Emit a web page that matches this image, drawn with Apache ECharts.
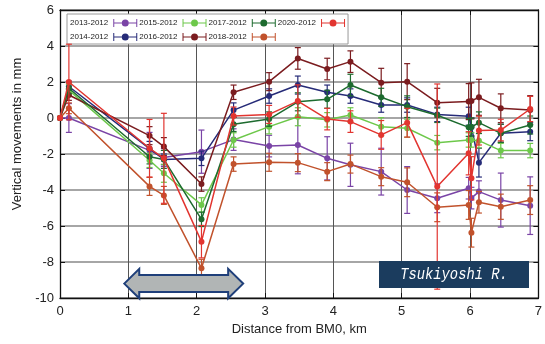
<!DOCTYPE html>
<html>
<head>
<meta charset="utf-8">
<script src="https://cdn.jsdelivr.net/npm/echarts@6/dist/echarts.min.js"></script>
<style>
html, body { margin: 0; padding: 0; background: #fff; }
#chart { width: 545px; height: 344px; }
</style>
</head>
<body>
<div id="chart"></div>
<script>
// station distances from BM0, km
var distKm = [0, 0.13, 1.31, 1.52, 2.07, 2.54, 3.06, 3.48, 3.91, 4.25, 4.70, 5.08, 5.52, 5.98, 6.02, 6.13, 6.45, 6.88];

var xTicks = [0, 1, 2, 3, 4, 5, 6, 7];
var yTicks = [-10, -8, -6, -4, -2, 0, 2, 4, 6];

// vertical movement (mm) and error (+/- mm) per survey
var v2013 = [0, 0, -1.8, -2.2, -1.87, -1.2, -1.56, -1.5, -2.24, -2.6, -2.98, -4.0, -4.46, -3.9, -4.45, -4.09, -4.56, -4.87];
var e2013 = [0, 0.8, 1.0, 0.5, 1.2, 0.6, 0.6, 1.6, 1.2, 1.2, 1.3, 1.3, 0.8, 0.6, 0.6, 0.6, 1.5, 1.6];
var v2014 = [0, 1.75, -1.7, -2.3, -2.24, 0.44, 1.22, 1.83, 1.43, 1.22, 0.72, 0.72, 0.2, 0.1, -0.5, -2.48, -0.85, -0.76];
var e2014 = [0, 0.3, 0.4, 0.3, 0.4, 0.4, 0.4, 0.5, 0.4, 0.4, 0.4, 0.4, 0.4, 0.5, 0.5, 0.8, 0.5, 0.5];
var v2015 = [0, 1.55, -2.35, -3.07, -4.83, -1.22, -0.48, 0.07, -0.1, 0.17, -0.48, -0.57, -1.37, -1.22, -1.22, -1.26, -1.81, -1.81];
var e2015 = [0, 0.3, 0.4, 0.5, 0.4, 0.4, 0.4, 0.5, 0.4, 0.4, 0.5, 0.5, 0.4, 0.4, 0.4, 0.4, 0.4, 0.4];
var v2016 = [0, 1.28, -0.98, -1.59, -3.67, 1.43, 2.02, 3.31, 2.72, 3.13, 1.96, 2.02, 0.85, 0.91, 0.95, 1.15, 0.54, 0.44];
var e2016 = [0, 0.3, 0.5, 0.5, 0.4, 0.4, 0.5, 0.6, 0.6, 0.6, 0.8, 1.0, 0.8, 1.0, 1.0, 1.0, 0.8, 0.8];
var v2017 = [0, 1.65, -2.15, -2.3, -5.63, -0.35, -0.06, 0.9, 1.04, 1.83, 1.15, 0.63, 0.15, -0.52, -0.5, -0.26, -0.85, -0.39];
var e2017 = [0, 0.3, 0.4, 0.5, 0.4, 0.4, 0.4, 0.5, 0.5, 0.6, 0.5, 0.6, 0.4, 0.5, 0.5, 0.6, 0.5, 0.5];
var v2018 = [0, 0.54, -3.8, -4.3, -8.35, -2.56, -2.46, -2.48, -2.98, -2.56, -3.26, -3.57, -4.96, -4.83, -6.37, -4.68, -4.93, -4.56];
var e2018 = [0, 0.3, 0.5, 0.5, 0.5, 0.4, 0.5, 0.5, 0.5, 0.5, 0.5, 0.8, 0.8, 0.8, 0.8, 0.6, 0.7, 0.8];
var v2020 = [0, 2.0, -1.68, -2.24, -6.87, 0.11, 0.2, 0.94, -0.06, -0.2, -0.94, -0.26, -3.81, -1.96, -3.35, -0.7, -0.67, 0.5];
var e2020 = [0, 2.1, 1.6, 2.5, 0.9, 0.5, 0.5, 0.9, 0.6, 0.6, 0.8, 0.8, 5.7, 1.2, 1.2, 0.8, 0.6, 0.7];

var surveys = [
	{name: '2013-2012', v: v2013, e: e2013, color: '#7a44a6'},
	{name: '2014-2012', v: v2014, e: e2014, color: '#262b78'},
	{name: '2015-2012', v: v2015, e: e2015, color: '#6dc84a'},
	{name: '2016-2012', v: v2016, e: e2016, color: '#7b1c1f'},
	{name: '2017-2012', v: v2017, e: e2017, color: '#1d6b2f'},
	{name: '2018-2012', v: v2018, e: e2018, color: '#c1522c'},
	{name: '2020-2012', v: v2020, e: e2020, color: '#e23530'}
];
var legendOrder = ['2013-2012', '2015-2012', '2017-2012', '2020-2012', '2014-2012', '2016-2012', '2018-2012'];

// annotation arrow (km range) and author tag
var arrowFromKm = 0.94, arrowToKm = 2.68, arrowAtMm = -9.2;

var font = '"Liberation Sans", Arial, sans-serif';
var errIcon = 'path://M0,0h1v8h-1z M23,0h1v8h-1z M0,3.5h8.5v1h-8.5z M15.5,3.5h8.5v1h-8.5z M8.5,4a3.5,3.5 0 1,1 7,0a3.5,3.5 0 1,1 -7,0z';

var errorBarItem = function(params, api){
	var x = api.value(0);
	var hi = api.coord([x, api.value(2)]);
	var lo = api.coord([x, api.value(1)]);
	var style = {stroke: api.visual('color'), lineWidth: 1.2, fill: null};
	return {
		type: 'group',
		children: [
			{type: 'line', shape: {x1: hi[0], y1: hi[1], x2: lo[0], y2: lo[1]}, style: style},
			{type: 'line', shape: {x1: hi[0] - 3, y1: hi[1], x2: hi[0] + 3, y2: hi[1]}, style: style},
			{type: 'line', shape: {x1: lo[0] - 3, y1: lo[1], x2: lo[0] + 3, y2: lo[1]}, style: style}
		]
	};
};

var series = [];
for(var i = 0; i < surveys.length; i++){
	var s = surveys[i];
	var pts = [], bars = [];
	for(var j = 0; j < distKm.length; j++){
		pts.push([distKm[j], s.v[j]]);
		if(s.e[j] > 0) bars.push([distKm[j], s.v[j] - s.e[j], s.v[j] + s.e[j]]);
	}
	series.push({
		type: 'custom', name: 'err ' + s.name, renderItem: errorBarItem,
		data: bars, encode: {x: 0, y: [1, 2]}, itemStyle: {color: s.color}, z: 2 + i * 2, silent: true
	});
	series.push({
		type: 'line', name: s.name, data: pts, symbol: 'circle', symbolSize: 6,
		itemStyle: {color: s.color, borderWidth: 0}, lineStyle: {color: s.color, width: 1.5},
		z: 3 + i * 2
	});
}

var chart = echarts.init(document.getElementById('chart'));
var axisBase = {
	type: 'value',
	axisLine: {show: true, onZero: false, lineStyle: {color: '#111', width: 1.3}},
	axisTick: {show: true, inside: true, length: 5, lineStyle: {color: '#111'}}
};
chart.setOption({
	animation: false,
	backgroundColor: '#fff',
	textStyle: {fontFamily: font},
	grid: {left: 60, right: 5, top: 10, bottom: 46},
	legend: {
		data: legendOrder, left: 67, top: 14, width: 276, align: 'right',
		padding: [3, 3, 1, 3], itemGap: 2, itemWidth: 24, itemHeight: 8,
		icon: errIcon, selectedMode: false,
		backgroundColor: '#fff', borderColor: '#999', borderWidth: 1,
		itemStyle: {borderWidth: 0},
		textStyle: {fontSize: 8, color: '#222', lineHeight: 12, fontFamily: font}
	},
	xAxis: [
		Object.assign({}, axisBase, {
			min: xTicks[0], max: xTicks[xTicks.length - 1], interval: 1, position: 'bottom',
			name: 'Distance from BM0, km', nameLocation: 'middle', nameGap: 25,
			nameTextStyle: {fontSize: 13, color: '#222'},
			axisLabel: {fontSize: 13, color: '#222', margin: 7},
			splitLine: {show: true, lineStyle: {color: '#555', width: 1}}
		}),
		Object.assign({}, axisBase, {
			min: xTicks[0], max: xTicks[xTicks.length - 1], interval: 1, position: 'top',
			axisLabel: {show: false}, splitLine: {show: false}
		})
	],
	yAxis: [
		Object.assign({}, axisBase, {
			min: yTicks[0], max: yTicks[yTicks.length - 1], interval: 2, position: 'left',
			name: 'Vertical movements in mm', nameLocation: 'middle', nameGap: 36,
			nameTextStyle: {fontSize: 13, color: '#222', padding: [0, 0, 0, 40]},
			axisLabel: {fontSize: 13, color: '#222', margin: 6},
			splitLine: {show: true, lineStyle: {color: '#888', width: 1.5}}
		}),
		Object.assign({}, axisBase, {
			min: yTicks[0], max: yTicks[yTicks.length - 1], interval: 2, position: 'right',
			axisLabel: {show: false}, splitLine: {show: false}
		})
	],
	series: series
});

// double-headed arrow and author tag
var a = chart.convertToPixel({xAxisIndex: 0, yAxisIndex: 0}, [arrowFromKm, arrowAtMm]);
var b = chart.convertToPixel({xAxisIndex: 0, yAxisIndex: 0}, [arrowToKm, arrowAtMm]);
var head = 15, shaft = 8.5, wing = 14.7;
chart.setOption({
	graphic: [
		{
			type: 'polygon', z: 50,
			shape: {points: [
				[a[0], a[1]], [a[0] + head, a[1] - wing], [a[0] + head, a[1] - shaft],
				[b[0] - head, b[1] - shaft], [b[0] - head, b[1] - wing], [b[0], b[1]],
				[b[0] - head, b[1] + wing], [b[0] - head, b[1] + shaft],
				[a[0] + head, a[1] + shaft], [a[0] + head, a[1] + wing]
			]},
			style: {fill: '#b1b5b5', stroke: '#1f3f7a', lineWidth: 2}
		},
		{
			type: 'rect', z: 50, shape: {x: 379, y: 261, width: 150, height: 27},
			style: {fill: '#1b3c5e'}
		},
		{
			type: 'text', z: 51, x: 454, y: 275, scaleX: 0.86,
			style: {text: 'Tsukiyoshi R.', fill: '#fff', font: 'italic 16px "Liberation Mono", "DejaVu Sans Mono", monospace', align: 'center', verticalAlign: 'middle'}
		}
	]
});
</script>
</body>
</html>
